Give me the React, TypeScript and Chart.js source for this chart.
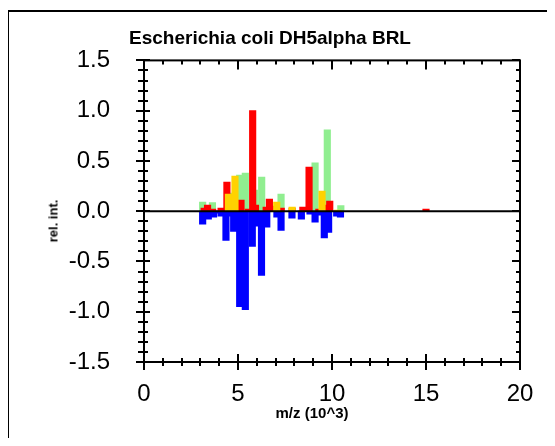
import React, { useEffect, useRef } from "react";
import { Chart, registerables } from "chart.js";

Chart.register(...registerables);

const FONT = "'Liberation Sans', Arial, Helvetica, sans-serif";

const TITLE = "Escherichia coli DH5alpha BRL";
const X_TITLE = "m/z (10^3)";
const Y_TITLE = "rel. int.";

const X_MIN = 0;
const X_MAX = 20;
const Y_MIN = -1.5;
const Y_MAX = 1.5;

// m/z in 10^3, relative intensity
const redMz = [3.2, 3.38, 3.65, 4.1, 4.41, 5.0, 5.16, 5.55, 5.78, 5.93, 6.5, 6.67, 6.88, 7.3, 7.88, 8.45, 8.78, 9.3, 9.62, 9.88, 15.0];
const redInt = [0.03, 0.06, 0.02, 0.03, 0.29, 0.04, 0.11, 0.02, 1.0, 0.06, 0.04, 0.12, 0.05, 0.03, 0.03, 0.04, 0.44, 0.02, 0.06, 0.1, 0.02];

const yellowMz = [4.49, 4.84, 7.06, 7.88, 9.47, 10.3];
const yellowInt = [0.17, 0.35, 0.09, 0.04, 0.2, 0.01];

const greenMz = [3.12, 3.64, 4.65, 5.09, 5.39, 5.87, 6.26, 7.29, 9.1, 9.75, 10.47];
const greenInt = [0.09, 0.085, 0.18, 0.36, 0.38, 0.21, 0.34, 0.17, 0.48, 0.81, 0.055];

const blueMz = [3.12, 3.42, 3.7, 3.94, 4.1, 4.36, 4.6, 4.77, 5.09, 5.39, 5.76, 6.0, 6.25, 6.53, 7.07, 7.29, 7.87, 8.37, 8.83, 9.1, 9.35, 9.59, 9.82, 10.25, 10.45];
const blueInt = [-0.13, -0.08, -0.06, -0.02, -0.05, -0.29, -0.05, -0.2, -0.95, -0.98, -0.35, -0.15, -0.64, -0.16, -0.06, -0.19, -0.07, -0.08, -0.03, -0.11, -0.04, -0.265, -0.21, -0.05, -0.06];

const pts = (xs: number[], ys: number[]) => xs.map((x, i) => ({ x, y: ys[i] }));

const framePlugin = {
  id: "frameTicks",
  afterDatasetsDraw(chart: any) {
    const { ctx, chartArea: a, scales } = chart;
    const y0 = scales.y.getPixelForValue(0);
    ctx.save();
    ctx.strokeStyle = "#000";
    ctx.lineWidth = 2;
    ctx.beginPath();
    ctx.moveTo(a.left, y0);
    ctx.lineTo(a.right, y0);
    ctx.stroke();
    ctx.restore();
  },
  afterDraw(chart: any) {
    const { ctx, chartArea: a, scales } = chart;
    const xs = scales.x;
    const ys = scales.y;
    ctx.save();
    ctx.strokeStyle = "#000";
    ctx.lineWidth = 2;
    ctx.strokeRect(a.left, a.top, a.right - a.left, a.bottom - a.top);
    ctx.beginPath();
    xs.ticks.forEach((t: any) => {
      const px = Math.round(xs.getPixelForValue(t.value));
      const major = Math.round(t.value) % 5 === 0;
      const l = major ? 8 : 4;
      ctx.moveTo(px, a.bottom - l);
      ctx.lineTo(px, a.bottom + l);
      ctx.moveTo(px, a.top);
      ctx.lineTo(px, a.top + (major ? 9 : 4));
    });
    ys.ticks.forEach((t: any) => {
      const py = Math.round(ys.getPixelForValue(t.value));
      const major = Math.abs(Math.round(t.value * 10)) % 5 === 0;
      ctx.moveTo(a.left - (major ? 8 : 6), py);
      ctx.lineTo(a.left + (major ? 6 : 4), py);
      ctx.moveTo(a.right - (major ? 8 : 4), py);
      ctx.lineTo(a.right, py);
    });
    ctx.stroke();
    ctx.restore();
  },
};

export default function App() {
  const ref = useRef<HTMLCanvasElement>(null);

  useEffect(() => {
    if (!ref.current) return;
    Chart.defaults.font.family = FONT;
    const thick = 6.5;
    const chart = new Chart(ref.current, {
      type: "bar",
      data: {
        datasets: [
          { label: "yellow", data: pts(yellowMz, yellowInt), backgroundColor: "#FFD200", barThickness: thick, grouped: false },
          { label: "red", data: pts(redMz, redInt), backgroundColor: "#FF0000", barThickness: thick, grouped: false },
          { label: "green", data: pts(greenMz, greenInt), backgroundColor: "#90EE90", barThickness: thick, grouped: false },
          { label: "blue", data: pts(blueMz, blueInt), backgroundColor: "#0000FF", barThickness: thick, grouped: false },
        ] as any,
      },
      options: {
        animation: false,
        responsive: false,
        maintainAspectRatio: false,
        layout: { padding: { top: 48, right: 33, bottom: 18, left: 0 } },
        plugins: {
          legend: { display: false },
          title: { display: false },
          tooltip: { enabled: false },
        },
        scales: {
          x: {
            type: "linear",
            min: X_MIN,
            max: X_MAX,
            offset: false,
            grid: { display: false, drawTicks: false, offset: false },
            border: { display: false },
            ticks: {
              stepSize: 1,
              autoSkip: false,
              maxRotation: 0,
              padding: 18,
              color: "#000",
              font: { family: FONT, size: 24 },
              callback: (v: any) => (Math.round(v) % 5 === 0 ? String(Math.round(v)) : ""),
            },
            afterFit: (s: any) => {
              s.height = 60;
            },
          },
          y: {
            type: "linear",
            min: Y_MIN,
            max: Y_MAX,
            grid: { display: false, drawTicks: false },
            border: { display: false },
            ticks: {
              stepSize: 0.1,
              autoSkip: false,
              padding: 34,
              color: "#000",
              font: { family: FONT, size: 24 },
              callback: (v: any) => {
                const r = Math.round(v * 10);
                return Math.abs(r) % 5 === 0 ? (r / 10).toFixed(1) : "";
              },
            },
            afterFit: (s: any) => {
              s.width = 135;
            },
          },
        },
      } as any,
      plugins: [framePlugin],
    });
    return () => chart.destroy();
  }, []);

  return (
    <div
      style={{
        position: "relative",
        top: 2,
        left: -1,
        width: 546,
        height: 430,
        borderTop: "2px solid #000",
        borderLeft: "2px solid #000",
        boxSizing: "border-box",
        fontFamily: FONT,
        color: "#000",
      }}
    >
      <canvas
        ref={ref}
        width={544}
        height={428}
        style={{ position: "absolute", left: 0, top: 0, width: 544, height: 428 }}
      />
      <div
        style={{
          position: "absolute",
          left: 261,
          top: 16,
          transform: "translateX(-50%)",
          fontWeight: "bold",
          fontSize: 19,
          lineHeight: "19px",
          whiteSpace: "nowrap",
        }}
      >
        {TITLE}
      </div>
      <div
        style={{
          position: "absolute",
          left: 303,
          top: 393,
          transform: "translateX(-50%)",
          fontWeight: "bold",
          fontSize: 15,
          lineHeight: "15px",
          whiteSpace: "nowrap",
        }}
      >
        {X_TITLE}
      </div>
      <div
        style={{
          position: "absolute",
          left: 44,
          top: 209,
          transform: "translate(-50%, -50%) rotate(-90deg)",
          fontWeight: "bold",
          fontSize: 13,
          lineHeight: "13px",
          whiteSpace: "nowrap",
        }}
      >
        {Y_TITLE}
      </div>
    </div>
  );
}
